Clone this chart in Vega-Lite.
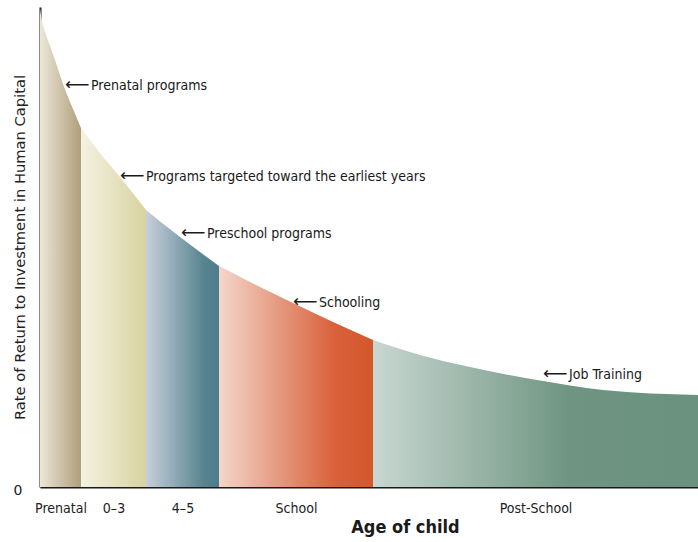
{
  "$schema": "https://vega.github.io/schema/vega-lite/v6.json",
  "width": 658,
  "height": 480,
  "autosize": {"type": "none"},
  "padding": {"left": 40, "top": 7, "right": 0, "bottom": 55},
  "background": "white",
  "config": {"view": {"stroke": null}},
  "datasets": {
    "curve": [
      {"seg": "Prenatal", "x": 0, "y": 479},
      {"seg": "Prenatal", "x": 2, "y": 466},
      {"seg": "Prenatal", "x": 5, "y": 455},
      {"seg": "Prenatal", "x": 10, "y": 441},
      {"seg": "Prenatal", "x": 15, "y": 427},
      {"seg": "Prenatal", "x": 23, "y": 403},
      {"seg": "Prenatal", "x": 33, "y": 378},
      {"seg": "Prenatal", "x": 41, "y": 359},
      {"seg": "0-3", "x": 41, "y": 359},
      {"seg": "0-3", "x": 60, "y": 334},
      {"seg": "0-3", "x": 80, "y": 310},
      {"seg": "0-3", "x": 106, "y": 277},
      {"seg": "4-5", "x": 106, "y": 277},
      {"seg": "4-5", "x": 140, "y": 250},
      {"seg": "4-5", "x": 179, "y": 221},
      {"seg": "School", "x": 179, "y": 221},
      {"seg": "School", "x": 216, "y": 202},
      {"seg": "School", "x": 253, "y": 184},
      {"seg": "School", "x": 293, "y": 165},
      {"seg": "School", "x": 333, "y": 147},
      {"seg": "Post-School", "x": 333, "y": 147},
      {"seg": "Post-School", "x": 380, "y": 132},
      {"seg": "Post-School", "x": 430, "y": 120},
      {"seg": "Post-School", "x": 497, "y": 107},
      {"seg": "Post-School", "x": 563, "y": 97},
      {"seg": "Post-School", "x": 658, "y": 92}
    ],
    "notes": [
      {"x": 25, "y": 401, "label": "Prenatal programs"},
      {"x": 80, "y": 310, "label": "Programs targeted toward the earliest years"},
      {"x": 141, "y": 253, "label": "Preschool programs"},
      {"x": 253, "y": 184, "label": "Schooling"},
      {"x": 503, "y": 112, "label": "Job Training"}
    ]
  },
  "data": {"name": "curve"},
  "encoding": {
    "x": {
      "field": "x",
      "type": "quantitative",
      "scale": {"domain": [0, 658], "nice": false, "zero": false},
      "axis": {
        "values": [20.5, 73.5, 142.5, 256, 495.5],
        "labelExpr": "datum.value < 40 ? 'Prenatal' : datum.value < 100 ? '0–3' : datum.value < 200 ? '4–5' : datum.value < 400 ? 'School' : 'Post-School'",
        "ticks": false,
        "grid": false,
        "domainColor": "#1a1a1a",
        "domainWidth": 2,
        "labelFont": "DejaVu Sans Condensed",
        "labelFontSize": 14,
        "labelColor": "#222222",
        "labelPadding": 14,
        "labelFlush": false,
        "title": "Age of child",
        "titleFont": "DejaVu Sans Condensed",
        "titleFontWeight": "bold",
        "titleFontSize": 18,
        "titleColor": "#1a1a1a",
        "titleX": 365,
        "titleY": 31,
        "titleAlign": "center"
      }
    },
    "y": {
      "field": "y",
      "type": "quantitative",
      "scale": {"domain": [0, 480], "nice": false},
      "axis": {
        "values": [0],
        "ticks": false,
        "grid": false,
        "domainColor": "#1a1a1a",
        "domainWidth": 2,
        "labelFont": "DejaVu Sans",
        "labelFontSize": 14,
        "labelColor": "#222222",
        "labelPadding": 18,
        "labelOffset": 3,
        "title": "Rate of Return to Investment in Human Capital",
        "titleFont": "DejaVu Sans",
        "titleFontWeight": "normal",
        "titleFontSize": 14.7,
        "titleColor": "#222222",
        "titleX": -13,
        "titleY": 240,
        "titleAlign": "center"
      }
    }
  },
  "layer": [
    {
      "transform": [{"filter": "datum.seg === 'Prenatal'"}],
      "mark": {"type": "area", "interpolate": "monotone", "color": {"gradient": "linear", "x1": 0, "x2": 1, "y1": 0, "y2": 0, "stops": [{"offset": 0, "color": "#ece7d8"}, {"offset": 0.8, "color": "#bcad8d"}, {"offset": 1, "color": "#b09f7d"}]}}
    },
    {
      "transform": [{"filter": "datum.seg === '0-3'"}],
      "mark": {"type": "area", "interpolate": "monotone", "color": {"gradient": "linear", "x1": 0, "x2": 1, "y1": 0, "y2": 0, "stops": [{"offset": 0, "color": "#f4f2e2"}, {"offset": 1, "color": "#d8d3a0"}]}}
    },
    {
      "transform": [{"filter": "datum.seg === '4-5'"}],
      "mark": {"type": "area", "interpolate": "monotone", "color": {"gradient": "linear", "x1": 0, "x2": 1, "y1": 0, "y2": 0, "stops": [{"offset": 0, "color": "#c8cfdb"}, {"offset": 0.8, "color": "#55838f"}, {"offset": 1, "color": "#4e7c8d"}]}}
    },
    {
      "transform": [{"filter": "datum.seg === 'School'"}],
      "mark": {"type": "area", "interpolate": "monotone", "color": {"gradient": "linear", "x1": 0, "x2": 1, "y1": 0, "y2": 0, "stops": [{"offset": 0, "color": "#f3d6ca"}, {"offset": 0.75, "color": "#d8613a"}, {"offset": 1, "color": "#d4572b"}]}}
    },
    {
      "transform": [{"filter": "datum.seg === 'Post-School'"}],
      "mark": {"type": "area", "interpolate": "monotone", "color": {"gradient": "linear", "x1": 0, "x2": 1, "y1": 0, "y2": 0, "stops": [{"offset": 0, "color": "#c8d7d1"}, {"offset": 0.6, "color": "#6f9582"}, {"offset": 1, "color": "#6a927f"}]}}
    },
    {
      "data": {"name": "notes"},
      "mark": {"type": "text", "align": "left", "baseline": "middle", "font": "DejaVu Sans", "fontSize": 17, "color": "#1a1a1a", "dy": -1},
      "encoding": {"text": {"value": "⟵"}}
    },
    {
      "data": {"name": "notes"},
      "mark": {"type": "text", "align": "left", "baseline": "middle", "font": "DejaVu Sans Condensed", "fontSize": 14, "color": "#1a1a1a", "dx": 26},
      "encoding": {"text": {"field": "label"}}
    }
  ]
}
